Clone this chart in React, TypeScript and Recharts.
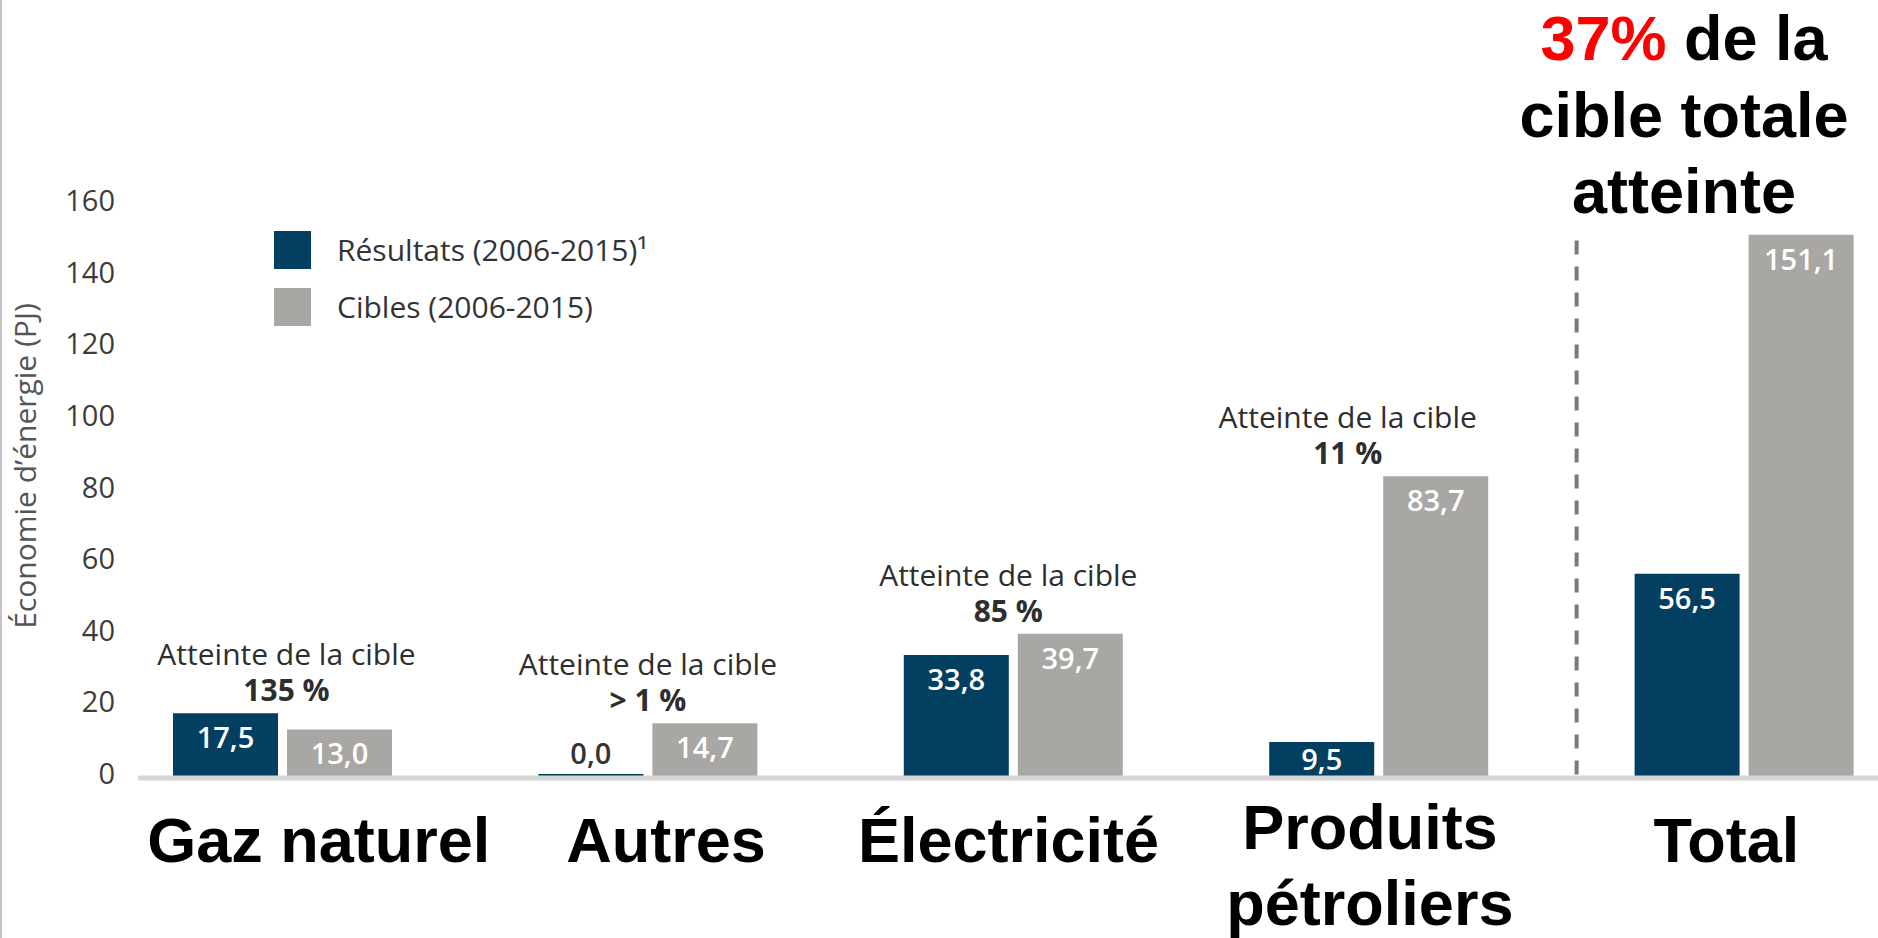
import React from 'react';
import { BarChart, Bar, XAxis, YAxis, ReferenceLine, LabelList, Legend } from 'recharts';

// categories + values
const CATEGORIES = ['Gaz naturel', 'Autres', 'Électricité', 'Produits\npétroliers', 'Total'];
const RESULTATS = [17.5, 0.0, 33.8, 9.5, 56.5];
const CIBLES = [13.0, 14.7, 39.7, 83.7, 151.1];
const ATTEINTE = ['135 %', '> 1 %', '85 %', '11 %', ''];
const Y_TICKS = [0, 20, 40, 60, 80, 100, 120, 140, 160];
const TITLE_LINES = ['de la', 'cible totale', 'atteinte'];
const TITLE_PCT = '37%';
const SERIES_ORDER = ['resultats', 'cibles'];

const chartData = CATEGORIES.map((name, i) => ({
  name,
  resultats: RESULTATS[i],
  cibles: CIBLES[i],
}));

const DARK = '#033f61';
const GREY = '#a8a7a3';
const BAR_W = 105;
const BAR_GAP = 9;
const SANS = '"Open Sans", sans-serif';
const ARIAL = '"Liberation Sans", Arial, sans-serif';

// small horizontal nudges, labels in the source aren't centred on the bars
const LABEL_SHIFT = [36, 18, -5, -9, -18];
const NOTE_SHIFT = [4, 0, -5, -31, 0];

const fmt = (v: number) => v.toFixed(1).replace('.', ',');

const YTick = ({ y, payload }: any) => (
  <text x={115} y={y + 8} textAnchor="end" fontSize={29} fill="#3c3c3c" fontFamily={SANS}>
    {payload.value}
  </text>
);

const XTick = ({ x, payload, index }: any) => {
  const i = index ?? payload.index;
  const lines = String(payload.value).split('\n');
  const baseY = lines.length > 1 ? 849 : 862;
  const cx = x + LABEL_SHIFT[i];
  return (
    <text textAnchor="middle" fontSize={63} fontWeight={700} fill="#000" fontFamily={ARIAL}>
      {lines.map((l, k) => (
        <tspan key={k} x={cx} y={baseY + k * 76}>
          {l}
        </tspan>
      ))}
    </text>
  );
};

// value printed inside the top of each bar (above it when the bar is empty)
const ValueLabel = (props: any) => {
  const { x, y, width, height, value } = props;
  const zero = value === 0;
  const bottom = y + height;
  const ty = zero ? y - 10 : Math.min(y + 35, bottom - 6);
  return (
    <text
      x={x + width / 2}
      y={ty}
      textAnchor="middle"
      fontSize={29}
      fontWeight={600}
      fill={zero ? '#333' : '#fff'}
      fontFamily={SANS}
    >
      {fmt(value)}
    </text>
  );
};

// "Atteinte de la cible / xx %" above each group
const NoteLabel = (props: any) => {
  const { x, y, height, index } = props;
  const note = ATTEINTE[index];
  if (!note) return null;
  const bottom = y + height;
  const top = bottom - (height * Math.max(RESULTATS[index], CIBLES[index])) / CIBLES[index];
  const cx = x - BAR_GAP / 2 + NOTE_SHIFT[index];
  return (
    <text fontFamily={SANS} fill="#2e2e2e" textAnchor="middle" fontSize={30}>
      <tspan x={cx} y={top - 48}>
        Atteinte de la cible
      </tspan>
      <tspan x={cx} y={top - 12} fontWeight={700}>
        {note}
      </tspan>
    </text>
  );
};

const LegendBox = ({ payload }: any) => {
  const items = [...(payload || [])].sort(
    (a: any, b: any) => SERIES_ORDER.indexOf(a.dataKey) - SERIES_ORDER.indexOf(b.dataKey)
  );
  return (
    <div style={{ fontFamily: SANS }}>
      {items.map((p: any, i: number) => (
        <div key={i} style={{ display: 'flex', alignItems: 'center', height: 57 }}>
          <span
            style={{ width: 37, height: 38, background: p.color, marginRight: 26, display: 'inline-block' }}
          />
          <span style={{ fontSize: 30, color: '#333', whiteSpace: 'nowrap' }}>{p.value}</span>
        </div>
      ))}
    </div>
  );
};

const App = () => {
  return (
    <div
      style={{
        position: 'absolute',
        left: 0,
        top: 0,
        width: 1878,
        height: 938,
        overflow: 'hidden',
        background: '#fff',
      }}
    >
      {/* thin grey frame on the left edge */}
      <div style={{ position: 'absolute', left: 0, top: 0, width: 2, height: 938, background: '#c4c4c4' }} />

      <BarChart
        width={1927}
        height={938}
        data={chartData}
        margin={{ top: 203, right: 0, bottom: 0, left: 40 }}
        barGap={BAR_GAP}
        barSize={BAR_W}
      >
        <XAxis
          dataKey="name"
          height={162}
          interval={0}
          tickLine={false}
          tick={<XTick />}
          axisLine={{
            stroke: '#d5d5d5',
            strokeWidth: 5,
            strokeDasharray: '0 38 4000',
            transform: 'translate(0 2)',
          }}
        />
        <YAxis
          width={60}
          domain={[0, 160]}
          ticks={Y_TICKS}
          axisLine={false}
          tickLine={false}
          tick={<YTick />}
          label={{
            content: () => (
              <text
                transform="translate(36 466) rotate(-90)"
                textAnchor="middle"
                fontSize={30}
                fill="#555"
                fontFamily={SANS}
              >
                Économie d’énergie (PJ)
              </text>
            ),
          }}
        />
        <Legend
          layout="vertical"
          align="center"
          verticalAlign="middle"
          wrapperStyle={{ left: 274, top: 221, width: 'auto' }}
          content={<LegendBox />}
        />
        <ReferenceLine
          segment={[
            { x: 'Total', y: 149.5 },
            { x: 'Total', y: 0 },
          ]}
          position="start"
          stroke="#7a7a7a"
          strokeWidth={4}
          strokeDasharray="14 12"
          transform="translate(15 0)"
        />
        <Bar dataKey="resultats" name="Résultats (2006-2015)¹" fill={DARK} minPointSize={2} isAnimationActive={false}>
          <LabelList dataKey="resultats" content={<ValueLabel />} />
        </Bar>
        <Bar dataKey="cibles" name="Cibles (2006-2015)" fill={GREY} isAnimationActive={false}>
          <LabelList dataKey="cibles" content={<ValueLabel />} />
          <LabelList dataKey="cibles" content={<NoteLabel />} />
        </Bar>
      </BarChart>

      {/* headline in the top right corner */}
      <svg
        width={1878}
        height={938}
        style={{ position: 'absolute', left: 0, top: 0, pointerEvents: 'none' }}
      >
        <g fontFamily={ARIAL} fontWeight={700} fontSize={63} textAnchor="middle" fill="#000">
          <text x={1684} y={60}>
            <tspan fill="#ff0000">{TITLE_PCT}</tspan> {TITLE_LINES[0]}
          </text>
          <text x={1684} y={137}>
            {TITLE_LINES[1]}
          </text>
          <text x={1684} y={213}>
            {TITLE_LINES[2]}
          </text>
        </g>
      </svg>
    </div>
  );
};

export default App;
